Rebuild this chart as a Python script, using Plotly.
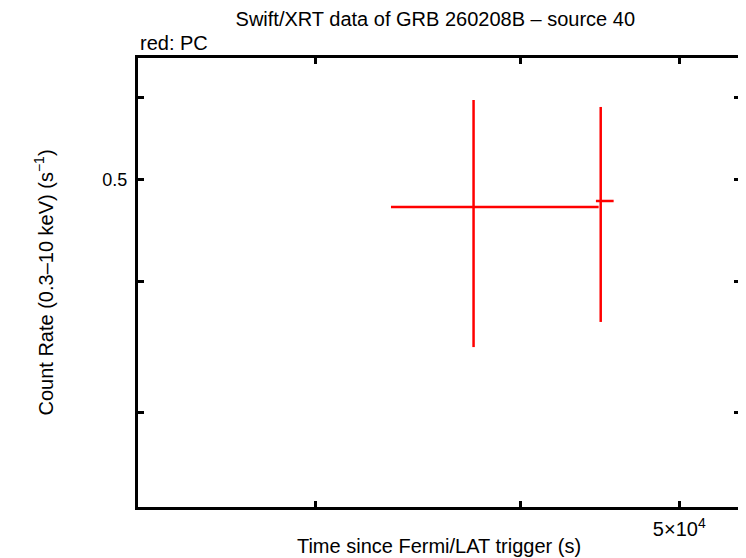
import plotly.graph_objects as go

# PC mode points (time since trigger in s, count rate in s^-1)
time_s = [37460, 44780]
time_err_plus = [44650 - 37460, 45600 - 44780]
time_err_minus = [37460 - 33360, 44780 - 44480]
rate = [0.4712, 0.4774]
rate_err_plus = [0.5963 - 0.4712, 0.5872 - 0.4774]
rate_err_minus = [0.4712 - 0.3461, 0.4774 - 0.3658]

x_ticks = [3e4, 4e4, 5e4]
x_ticklabels = ["", "", "5×10<sup>4</sup>"]
y_ticks = [0.3, 0.4, 0.5, 0.6]
y_ticklabels = ["", "", "0.5", ""]

FONT = "Liberation Sans, Arial, sans-serif"

fig = go.Figure(
    go.Scatter(
        x=time_s,
        y=rate,
        mode="markers",
        marker=dict(size=1, color="red"),
        error_x=dict(type="data", symmetric=False, array=time_err_plus,
                     arrayminus=time_err_minus, color="red", thickness=2.5, width=0),
        error_y=dict(type="data", symmetric=False, array=rate_err_plus,
                     arrayminus=rate_err_minus, color="red", thickness=2.5, width=0),
        showlegend=False,
    )
)

axis_style = dict(
    showline=True, linecolor="black", linewidth=3, mirror="allticks",
    ticks="inside", ticklen=6, tickwidth=2.5, tickcolor="black",
    showgrid=False, zeroline=False,
)

# page body has an 8px margin, so the figure is a bit smaller than the window
fig.update_layout(
    width=738, height=550,
    margin=dict(l=130, r=3, t=50, b=51),
    paper_bgcolor="white", plot_bgcolor="white",
    font=dict(family=FONT, size=18, color="black"),
    title=dict(text="Swift/XRT data of GRB 260208B – source 40",
               x=0.579, xanchor="center", y=0.98, yanchor="middle",
               font=dict(family=FONT, size=20)),
    annotations=[
        dict(text="red: PC", xref="paper", yref="paper", x=0, y=1,
             xanchor="left", yanchor="bottom", yshift=2, showarrow=False,
             font=dict(family=FONT, size=20)),
    ],
)
fig.update_xaxes(type="log", range=[4.369, 4.736], tickvals=x_ticks,
                 ticktext=x_ticklabels, ticklabelstandoff=2,
                 tickfont=dict(family=FONT, size=20, color="black"),
                 title=dict(text="Time since Fermi/LAT trigger (s)", standoff=0,
                            font=dict(family=FONT, size=20)),
                 **axis_style)
fig.update_yaxes(type="log", range=[-0.6137, -0.1844], tickvals=y_ticks,
                 ticktext=y_ticklabels, ticklabelstandoff=4,
                 tickfont=dict(family=FONT, size=18, color="black"),
                 title=dict(text="Count Rate (0.3–10 keV) (s<sup>−1</sup>)", standoff=44,
                            font=dict(family=FONT, size=20)),
                 **axis_style)

fig.write_html("out.html")
